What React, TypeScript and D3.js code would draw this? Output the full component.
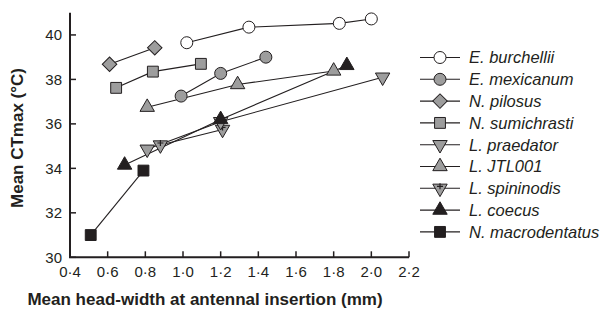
import React from "react";
import * as d3 from "d3";

const xTicks = [0.4, 0.6, 0.8, 1.0, 1.2, 1.4, 1.6, 1.8, 2.0, 2.2];
const yTicks = [30, 32, 34, 36, 38, 40];

// [head width (mm), CTmax (°C)]
const burchellii = [[1.02, 39.65], [1.35, 40.35], [1.83, 40.52], [2.0, 40.72]];
const mexicanum = [[0.99, 37.25], [1.2, 38.27], [1.44, 39.0]];
const pilosus = [[0.61, 38.68], [0.85, 39.42]];
const sumichrasti = [[0.645, 37.62], [0.84, 38.35], [1.095, 38.7]];
const praedator = [[0.81, 34.86], [1.2, 36.1], [2.06, 38.1]];
const jtl001 = [[0.81, 36.75], [1.29, 37.77], [1.8, 38.38]];
const spininodis = [[0.88, 35.05], [1.21, 35.75]];
const coecus = [[0.69, 34.15], [1.2, 36.2], [1.87, 38.63]];
const macrodentatus = [[0.51, 31.0], [0.79, 33.9]];

const GRAY = "#9d9d9d";

// legend order
const series = [
  { name: "E. burchellii", data: burchellii, shape: "circle", fill: "#fff" },
  { name: "E. mexicanum", data: mexicanum, shape: "circle", fill: GRAY },
  { name: "N. pilosus", data: pilosus, shape: "diamond", fill: GRAY },
  { name: "N. sumichrasti", data: sumichrasti, shape: "square", fill: GRAY },
  { name: "L. praedator", data: praedator, shape: "down", fill: GRAY },
  { name: "L. JTL001", data: jtl001, shape: "up", fill: GRAY },
  { name: "L. spininodis", data: spininodis, shape: "downplus", fill: GRAY },
  { name: "L. coecus", data: coecus, shape: "up", fill: "#231f20" },
  { name: "N. macrodentatus", data: macrodentatus, shape: "square", fill: "#231f20" },
];

// draw order for markers (later on top)
const drawOrder = [8, 0, 1, 2, 3, 6, 4, 7, 5];

function Marker({ shape, fill, x, y }) {
  const stroke = "#231f20";
  if (shape === "circle")
    return <circle cx={x} cy={y} r={6} fill={fill} stroke={stroke} strokeWidth={1} />;
  if (shape === "square")
    return (
      <path
        d={d3.symbol(d3.symbolSquare, 118)()}
        transform={`translate(${x},${y})`}
        fill={fill}
        stroke={stroke}
        strokeWidth={1}
      />
    );
  if (shape === "diamond")
    return (
      <path
        d={d3.symbol(d3.symbolSquare, 105)()}
        transform={`translate(${x},${y}) rotate(45)`}
        fill={fill}
        stroke={stroke}
        strokeWidth={1}
      />
    );
  const tri = d3.symbol(d3.symbolTriangle, 90)();
  const rot = shape === "up" ? 0 : 180;
  return (
    <g transform={`translate(${x},${y})`}>
      <path d={tri} transform={`rotate(${rot})`} fill={fill} stroke={stroke} strokeWidth={1} />
      {shape === "downplus" && (
        <path d="M-3,-2H3M0,-5V1" stroke={stroke} strokeWidth={1.2} />
      )}
    </g>
  );
}

export default function App() {
  const width = 607;
  const height = 313;
  const marginLeft = 70;
  const plotRight = 409;
  const plotTop = 12.7;
  const plotBottom = 257.3;

  const x = d3.scaleLinear().domain([0.4, 2.2]).range([marginLeft, plotRight]);
  const y = d3.scaleLinear().domain([30, 41]).range([plotBottom, plotTop]);
  const line = d3
    .line()
    .x((d) => x(d[0]))
    .y((d) => y(d[1]));

  const textColor = "#231f20";
  const font = "'Liberation Sans', Arial, sans-serif";

  return (
    <svg
      width={width}
      height={height}
      style={{ position: "absolute", left: 0, top: 0, background: "#fff" }}
      fontFamily={font}
    >
      {/* lines */}
      {series.map((s) => (
        <path key={s.name} d={line(s.data)} fill="none" stroke={textColor} strokeWidth={1.1} />
      ))}
      {/* markers */}
      {drawOrder.map((i) => {
        const s = series[i];
        return s.data.map((d, j) => (
          <Marker key={s.name + j} shape={s.shape} fill={s.fill} x={x(d[0])} y={y(d[1])} />
        ));
      })}

      {/* axes */}
      <path
        d={`M${marginLeft},${plotTop}V${plotBottom}H${plotRight}`}
        fill="none"
        stroke={textColor}
        strokeWidth={2}
      />
      {yTicks.map((t) => (
        <g key={t}>
          <line x1={marginLeft} x2={marginLeft + 6} y1={y(t)} y2={y(t)} stroke={textColor} strokeWidth={1.5} />
          <text x={marginLeft - 8} y={y(t)} dy="0.36em" textAnchor="end" fontSize={15} fill={textColor}>
            {t}
          </text>
        </g>
      ))}
      {xTicks.map((t) => (
        <g key={t}>
          <line x1={x(t)} x2={x(t)} y1={plotBottom} y2={plotBottom - 6} stroke={textColor} strokeWidth={1.5} />
          <text x={x(t)} y={plotBottom + 20} textAnchor="middle" fontSize={15} fill={textColor}>
            {t.toFixed(1).replace(".", "·")}
          </text>
        </g>
      ))}

      <text
        transform={`translate(23,${(plotTop + plotBottom) / 2 + 3}) rotate(-90)`}
        textAnchor="middle"
        fontSize={17}
        fontWeight="bold"
        fill={textColor}
      >
        Mean CTmax (°C)
      </text>
      <text x={205} y={305} textAnchor="middle" fontSize={17} fontWeight="bold" fill={textColor}>
        Mean head-width at antennal insertion (mm)
      </text>

      {/* legend */}
      {series.map((s, i) => {
        const ly = 57.5 + i * 21.8;
        return (
          <g key={s.name}>
            <line x1={420} x2={460} y1={ly} y2={ly} stroke={textColor} strokeWidth={1.1} />
            <Marker shape={s.shape} fill={s.fill} x={440} y={ly} />
            <text x={469} y={ly} dy="0.36em" fontSize={16.5} fontStyle="italic" fill={textColor}>
              {s.name}
            </text>
          </g>
        );
      })}
    </svg>
  );
}
